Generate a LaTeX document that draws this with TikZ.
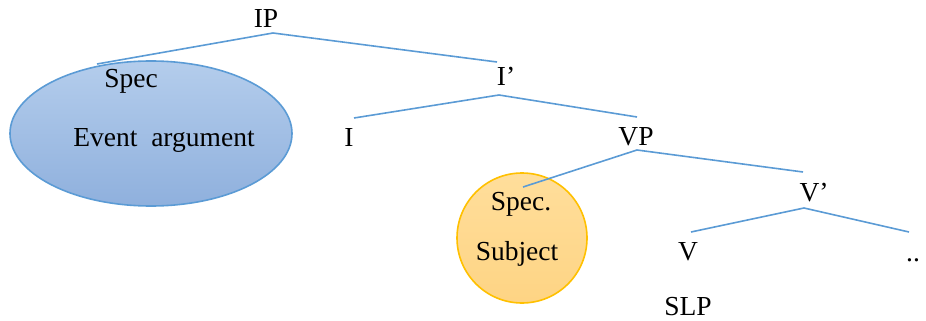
\documentclass[tikz,border=0pt]{standalone}
\usepackage{fontspec}
\setmainfont{Liberation Serif}
\definecolor{lineblue}{RGB}{91,155,213}
\definecolor{elltop}{RGB}{180,205,236}
\definecolor{ellbot}{RGB}{143,176,221}
\definecolor{circtop}{RGB}{255,222,155}
\definecolor{circbot}{RGB}{254,212,132}
\definecolor{gold}{RGB}{255,192,0}
\begin{document}
\begin{tikzpicture}[x=1pt,y=-1pt,
  lbl/.style={anchor=base,inner sep=0pt,font=\fontsize{27.5}{30}\selectfont,text=black},
  edge/.style={draw=lineblue,line width=1.6pt}]
\useasboundingbox (0,0) rectangle (926,321);
% shapes
\path[shade,top color=elltop,bottom color=ellbot,draw=lineblue,line width=1.6pt]
  (151,133.5) ellipse [x radius=141, y radius=72.5];
\path[shade,top color=circtop,bottom color=circbot,draw=gold,line width=1.6pt]
  (522,238) circle [radius=65];
% labels
\node[lbl] (ip) at (266,28) {IP};
\node[lbl] (spec) at (131,87) {Spec};
\node[lbl] (ev) at (164,146) {Event\ \ argument};
\node[lbl] (ibar) at (506,85) {I’};
\node[lbl] (i) at (349,146) {I};
\node[lbl] (vp) at (636,145) {VP};
\node[lbl] (vbar) at (814,201) {V’};
\node[lbl] (specb) at (521,210) {Spec.};
\node[lbl] (subj) at (517,260) {Subject};
\node[lbl] (v) at (688,260) {V};
\node[lbl] (dots) at (913,261) {..};
\node[lbl] (slp) at (688,315) {SLP};
% connector ends
\coordinate (ipJ) at (273,33);
\coordinate (specT) at (97,64);
\coordinate (ibarT) at (497,62);
\coordinate (ibarJ) at (499,95);
\coordinate (iT) at (354,118);
\coordinate (vpT) at (637,117);
\coordinate (vpJ) at (637,150);
\coordinate (specbT) at (523,187);
\coordinate (vbarT) at (803,172);
\coordinate (vbarJ) at (804,208);
\coordinate (vT) at (691,232);
\coordinate (dotsT) at (909,232);
% connectors
\draw[edge] (specT) -- (ipJ) -- (ibarT);
\draw[edge] (iT) -- (ibarJ) -- (vpT);
\draw[edge] (specbT) -- (vpJ) -- (vbarT);
\draw[edge] (vT) -- (vbarJ) -- (dotsT);
\end{tikzpicture}
\end{document}
